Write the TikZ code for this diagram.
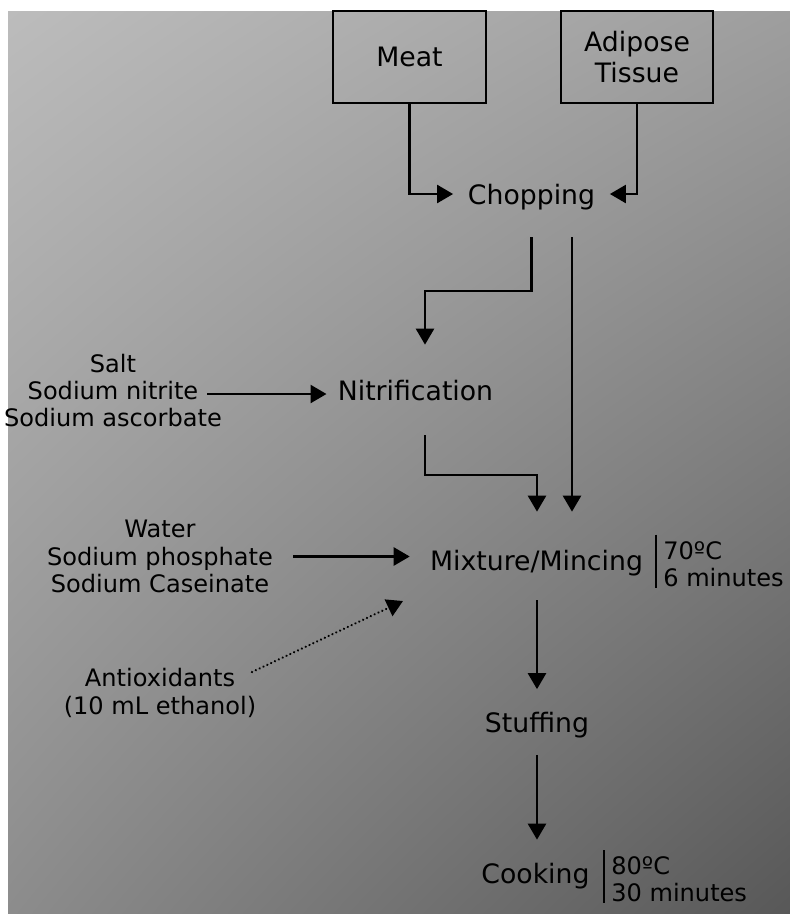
\documentclass[tikz,border=0pt]{standalone}
\usepackage{fontspec}
\setmainfont{DejaVu Sans}
\usepackage{tikz}
\usetikzlibrary{arrows.meta,positioning,calc,shadings}

\definecolor{bgUL}{RGB}{188,188,188}
\definecolor{bgUR}{RGB}{158,158,158}
\definecolor{bgLL}{RGB}{140,140,140}
\definecolor{bgLR}{RGB}{88,88,88}

\begin{document}
\begin{tikzpicture}[
    x=0.02cm, y=-0.02cm,
    source/.style={rectangle, draw=black, line width=1.4pt, minimum width=3.05cm, minimum height=1.84cm, align=center, font=\fontsize{15.2}{17.6}\selectfont},
    stage/.style={inner sep=0pt, text depth=0pt, text height=0.4cm, font=\fontsize{15.2}{17.6}\selectfont},
    additive/.style={align=center, inner xsep=0.4cm, inner ysep=0pt, font=\fontsize{13.7}{15.6}\selectfont},
    condition/.style={anchor=west, align=left, inner xsep=0.14cm, inner ysep=0pt, font=\fontsize{13.7}{15.4}\selectfont},
    flow/.style={-{Triangle[width=0.36cm,length=0.32cm]}, line width=1.4pt},
    bar/.style={line width=1.2pt}
]
    % Background
    \useasboundingbox (0,0) rectangle (790,914);
    \shade[upper left=bgUL, upper right=bgUR, lower left=bgLL, lower right=bgLR] (8,11) rectangle (790,914);

    % Raw materials
    \node[source] (meat) at (409.5,57) {Meat};
    \node[source] (adip) at (637,57) {Adipose\\Tissue};

    % Process stages
    \node[stage, minimum height=1.72cm, inner xsep=0.29cm] (chop) at (531.5,194) {Chopping};
    \node[stage, minimum height=1.8cm, inner xsep=0.22cm] (nitri) at (415.5,390) {Nitrification};
    \node[stage, text height=0.56cm, minimum height=1.76cm, inner xsep=0.4cm] (mix) at (536.5,556) {Mixture/Mincing};
    \node[stage, minimum height=1.3cm] (stuff) at (537,722) {Stuffing};
    \node[stage, minimum height=1.32cm] (cook) at (535.5,873) {Cooking};

    % Additives
    \node[additive] (salt) at (113,390.5) {Salt\\Sodium nitrite\\Sodium ascorbate};
    \node[additive] (water) at (160,556.5) {Water\\Sodium phosphate\\Sodium Caseinate};
    \node[additive] (antiox) at (160,693) {Antioxidants\\(10 mL ethanol)};

    % Conditions
    \node[condition] (mixcond) at (656,564.5) {70ºC\\6 minutes};
    \draw[bar] ([yshift=0.14cm]mixcond.north west) -- ([yshift=-0.02cm]mixcond.south west);
    \node[condition] (cookcond) at (604,879) {80ºC\\30 minutes};
    \draw[bar] ([yshift=0.12cm]cookcond.north west) -- ([yshift=-0.02cm]cookcond.south west);

    % Helper points
    \coordinate (chopR) at (572,237);
    \coordinate (bendA) at (425,291);
    \coordinate (bendB) at (537,475);
    \coordinate (saltOut) at (207,394);
    \coordinate (aoOut) at (252,672);
    \coordinate (aoIn) at (403,601);

    % Connectors
    \draw[flow] (meat.south) |- (chop.west);
    \draw[flow] (adip.south) |- (chop.east);
    \draw[flow] (chop.south) |- (bendA) -- (bendA |- nitri.north);
    \draw[flow] (chopR) -- (chopR |- mix.north);
    \draw[flow] (bendA |- nitri.south) |- (bendB) -- (bendB |- mix.north);
    \draw[flow] (saltOut) -- (saltOut -| nitri.west);
    \draw[flow] (water.east) -- (water.east -| mix.west);
    \draw[flow, line cap=round, dash pattern=on 0.01pt off 2.4pt] (aoOut) -- (aoIn);
    \draw[flow] (bendB |- mix.south) -- (bendB |- stuff.north);
    \draw[flow] (bendB |- stuff.south) -- (bendB |- cook.north);
\end{tikzpicture}
\end{document}
